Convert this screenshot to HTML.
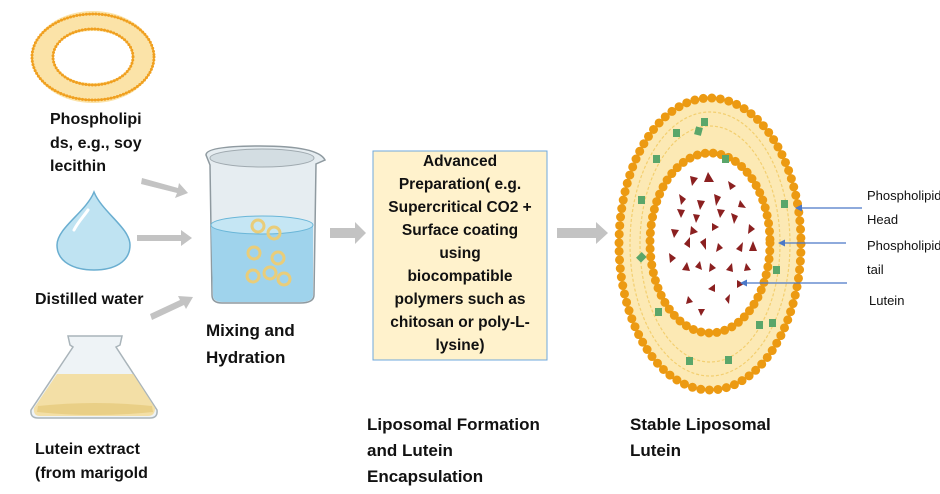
<!DOCTYPE html>
<html><head><meta charset="utf-8"><style>
body{margin:0;background:#fff;}
svg{display:block;font-family:"Liberation Sans",Arial,sans-serif;}
.b{font-weight:bold;fill:#111;}
</style></head><body>
<svg width="940" height="494" viewBox="0 0 940 494" xmlns="http://www.w3.org/2000/svg">
<!-- top-left ring -->
<ellipse cx="93" cy="57" rx="51" ry="36" fill="none" stroke="#fbe3a8" stroke-width="20"/>
<ellipse cx="93" cy="57" rx="61" ry="43" fill="none" stroke="#f0a020" stroke-width="3" stroke-dasharray="0 3.2" stroke-linecap="round"/>
<ellipse cx="93" cy="57" rx="61" ry="43" fill="none" stroke="#f0a020" stroke-width="1.5"/>
<ellipse cx="93" cy="57" rx="40" ry="28" fill="none" stroke="#f0a020" stroke-width="3" stroke-dasharray="0 3.2" stroke-linecap="round"/>
<ellipse cx="93" cy="57" rx="40" ry="28" fill="none" stroke="#f0a020" stroke-width="1.5"/>
<text class="b" font-size="16"><tspan x="50" y="124">Phospholipi</tspan><tspan x="50" y="148">ds, e.g., soy</tspan><tspan x="50" y="171">lecithin</tspan></text>
<!-- gray arrows -->
<g fill="#c3c3c3">
<polygon points="142,178 178,188 179,183 188,193 175,198 177,193 141,184"/>
<polygon points="137,235 181,235 181,230 192,238 181,246 181,241 137,241"/>
<polygon points="150,314 180,300 178,296 193,297 186,309 184,305 152,320"/>
<polygon points="330,228 355,228 355,222 366,233 355,244 355,238 330,238"/>
<polygon points="557,228 596,228 596,222 608,233 596,244 596,238 557,238"/>
</g>
<!-- drop -->
<path d="M94,192 C102,212 130,228 130,245 C130,262 114,270 94,270 C74,270 57,262 57,245 C57,228 86,212 94,192 Z" fill="#bfe3f2" stroke="#6aaed0" stroke-width="1.5"/>
<path d="M74,230 C78,222 84,216 88,210" stroke="#fff" stroke-width="3" fill="none" stroke-linecap="round"/>
<text class="b" font-size="16" x="35" y="304">Distilled water</text>
<!-- flask -->
<path d="M68,336 L122,336 L120,345 L116,347 L157,410 Q158,418 150,418 L38,418 Q30,418 31,410 L73,347 L70,345 Z" fill="#eef3f6" stroke="#a9b4ba" stroke-width="1.5"/>
<path d="M57,374 L133,374 L155,408 Q155,416 148,416 L40,416 Q33,416 34,408 Z" fill="#f3dfa6"/>
<path d="M38,406 Q95,400 152,406 L153,412 Q95,418 37,412Z" fill="#e9cf86"/>
<text class="b" font-size="16"><tspan x="35" y="454">Lutein extract</tspan><tspan x="35" y="478">(from marigold</tspan></text>
<!-- beaker -->
<path d="M206,155 Q206,146 260,146 Q318,146 325,160 L316,164 L314,295 Q314,303 300,303 L222,303 Q212,303 212,295 L210,165 Z" fill="#e6edf1" stroke="#8f9aa0" stroke-width="1.5"/>
<ellipse cx="262" cy="158" rx="52" ry="9" fill="#d3dde2" stroke="#a0aab0"/>
<path d="M211,225 L313,225 L313,295 Q313,302 300,302 L223,302 Q213,302 213,295 Z" fill="#9fd3ec"/>
<ellipse cx="262" cy="225" rx="51" ry="9" fill="#c5e6f4" stroke="#6ab6d8"/>
<g fill="none" stroke="#e9cd7a" stroke-width="3">
<circle cx="258" cy="226" r="6"/><circle cx="274" cy="233" r="6"/><circle cx="254" cy="253" r="6"/><circle cx="278" cy="258" r="6"/><circle cx="253" cy="276" r="6"/><circle cx="270" cy="273" r="6"/><circle cx="284" cy="279" r="6"/>
</g>
<text class="b" font-size="17"><tspan x="206" y="336">Mixing and</tspan><tspan x="206" y="363">Hydration</tspan></text>
<!-- box -->
<rect x="373" y="151" width="174" height="209" fill="#fff2cc" stroke="#6fa8dc" stroke-width="1"/>
<text class="b" font-size="15.5" text-anchor="middle"><tspan x="460" y="166">Advanced</tspan><tspan x="460" y="189">Preparation( e.g.</tspan><tspan x="460" y="212">Supercritical CO2 +</tspan><tspan x="460" y="235">Surface coating</tspan><tspan x="460" y="258">using</tspan><tspan x="460" y="281">biocompatible</tspan><tspan x="460" y="304">polymers such as</tspan><tspan x="460" y="327">chitosan or poly-L-</tspan><tspan x="460" y="350">lysine)</tspan></text>
<text class="b" font-size="17"><tspan x="367" y="430">Liposomal Formation</tspan><tspan x="367" y="456">and Lutein</tspan><tspan x="367" y="482">Encapsulation</tspan></text>
<text class="b" font-size="17"><tspan x="630" y="430">Stable Liposomal</tspan><tspan x="630" y="456">Lutein</tspan></text>
<!-- liposome -->
<ellipse cx="710" cy="244" rx="90" ry="145" fill="#fce9b4"/>
<ellipse cx="710" cy="244" rx="80" ry="132" fill="none" stroke="#f3cf70" stroke-width="1.2" stroke-dasharray="3 2"/>
<ellipse cx="710" cy="244" rx="70" ry="118" fill="none" stroke="#f3cf70" stroke-width="1.2" stroke-dasharray="3 2"/>
<ellipse cx="710" cy="244" rx="91" ry="146" fill="none" stroke="#ec9a12" stroke-width="9" stroke-dasharray="0 8.6" stroke-linecap="round"/>
<ellipse cx="710" cy="243" rx="60" ry="90" fill="#fff"/>
<ellipse cx="710" cy="243" rx="60" ry="90" fill="none" stroke="#ec9a12" stroke-width="9" stroke-dasharray="0 8" stroke-linecap="round"/>
<g fill="#5aa66a">
<rect x="673" y="129" width="7" height="8"/><rect x="695" y="127" width="7" height="8" transform="rotate(15 698 131)"/><rect x="653" y="155" width="7" height="8"/><rect x="722" y="155" width="7" height="8"/><rect x="701" y="118" width="7" height="8"/><rect x="638" y="196" width="7" height="8"/><rect x="781" y="200" width="7" height="8"/><rect x="638" y="253" width="7" height="8" transform="rotate(45 641 257)"/><rect x="773" y="266" width="7" height="8"/><rect x="655" y="308" width="7" height="8"/><rect x="756" y="321" width="7" height="8"/><rect x="769" y="319" width="7" height="8"/><rect x="686" y="357" width="7" height="8"/><rect x="725" y="356" width="7" height="8"/>
</g>
<g fill="#8b2020">
<polygon points="690,176 698,178 692,186"/><polygon points="708,172 714,182 704,182"/><polygon points="728,181 736,186 730,190"/><polygon points="679,194 686,199 681,205"/><polygon points="697,200 705,201 700,210"/><polygon points="714,194 721,197 716,206"/><polygon points="740,200 746,208 738,207"/><polygon points="677,209 685,210 681,218"/><polygon points="693,214 700,215 696,223"/><polygon points="717,209 725,210 720,218"/><polygon points="731,213 738,216 734,224"/><polygon points="671,229 679,230 674,238"/><polygon points="691,226 698,232 690,235"/><polygon points="712,223 719,227 712,231"/><polygon points="749,224 755,229 748,234"/><polygon points="684,244 690,237 690,248"/><polygon points="700,242 706,238 706,250"/><polygon points="718,243 723,248 716,252"/><polygon points="736,249 743,242 742,252"/><polygon points="753,241 757,251 749,251"/><polygon points="669,253 676,258 670,263"/><polygon points="682,270 687,262 690,271"/><polygon points="695,267 700,261 702,270"/><polygon points="710,263 716,268 709,272"/><polygon points="726,270 732,263 733,272"/><polygon points="746,263 751,270 744,271"/><polygon points="737,280 744,284 737,288"/><polygon points="708,289 715,284 715,292"/><polygon points="688,296 693,302 686,304"/><polygon points="725,299 730,294 729,304"/><polygon points="698,309 705,309 701,316"/>
</g>
<!-- blue arrows -->
<g stroke="#4a78c8" stroke-width="1.3" fill="#4a78c8">
<line x1="862" y1="208" x2="800" y2="208"/><polygon points="795,208 802,204.5 802,211.5" stroke="none"/>
<line x1="846" y1="243" x2="783" y2="243"/><polygon points="778,243 785,239.5 785,246.5" stroke="none"/>
<line x1="847" y1="283" x2="745" y2="283"/><polygon points="740,283 747,279.5 747,286.5" stroke="none"/>
</g>
<text font-size="13" fill="#111"><tspan x="867" y="200">Phospholipid</tspan><tspan x="867" y="224">Head</tspan><tspan x="867" y="250">Phospholipid</tspan><tspan x="867" y="274">tail</tspan><tspan x="869" y="305">Lutein</tspan></text>
</svg>
</body></html>
